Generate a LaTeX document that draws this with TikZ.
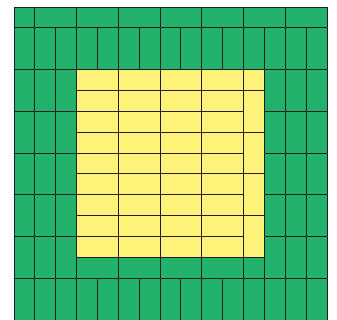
\documentclass[tikz,border=0pt]{standalone}
\usepackage{xcolor}
\usepackage{tikz}
\usetikzlibrary{positioning}

\definecolor{tilegreen}{HTML}{22B26B}
\definecolor{tileyellow}{HTML}{FFF37A}
\definecolor{tileline}{HTML}{231F20}

\begin{document}
\begin{tikzpicture}[tile/.style={draw=tileline, line width=1.3pt}]
        \useasboundingbox (-0.67,0) rectangle (15.48,15.335);

        % Fills
        \fill[tilegreen] (0,0) rectangle (15,15);
        \fill[tileyellow] (3,3) rectangle (12,12);

        % Top strip
        \draw[tile] (0,14) rectangle (1,15);
        \foreach \x in {1,3,...,13}
            \draw[tile] (\x,14) rectangle (\x+2,15);

        % Upper and lower rows of upright tiles
        \foreach \x in {0,...,14} {
            \draw[tile] (\x,12) rectangle (\x+1,14);
            \draw[tile] (\x,0) rectangle (\x+1,2);
        }

        % Left and right sides
        \foreach \y in {2,4,...,10} {
            \foreach \x in {0,1,2,12,13,14}
                \draw[tile] (\x,\y) rectangle (\x+1,\y+2);
        }

        % Bottom strip
        \foreach \x in {3,5,...,9}
            \draw[tile] (\x,2) rectangle (\x+2,3);
        \draw[tile] (11,2) rectangle (12,3);

        % Yellow part
        \foreach \y in {3,...,11} {
            \foreach \x in {3,5,...,9}
                \draw[tile] (\x,\y) rectangle (\x+2,\y+1);
        }
        \draw[tile] (11,11) rectangle (12,12);
        \foreach \y in {3,5,7,9}
            \draw[tile] (11,\y) rectangle (12,\y+2);

    \end{tikzpicture}
\end{document}
